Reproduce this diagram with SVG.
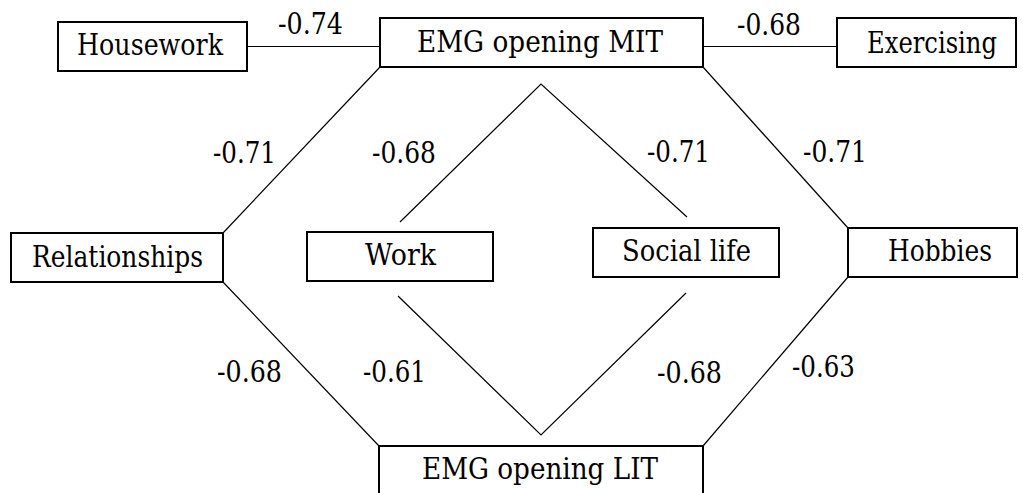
<svg xmlns="http://www.w3.org/2000/svg" width="1023" height="493" viewBox="0 0 1023 493">
<style>
.box{fill:#fff;stroke:#000;stroke-width:2}
.t{font-family:'DejaVu Serif','Liberation Serif',serif;font-size:29.5px;fill:#000}
.c{text-anchor:middle}
.ln{stroke:#000;stroke-width:1.2;fill:none}
.h{stroke:#000;stroke-width:1;fill:none}
</style>
<rect width="1023" height="493" fill="#fff"/>
<g id="connectors">
<line class="h" x1="247" y1="46.5" x2="380" y2="46.5"/>
<line class="h" x1="703" y1="46.5" x2="837" y2="46.5"/>
<line class="ln" x1="380" y1="67" x2="223" y2="233"/>
<line class="ln" x1="223" y1="282" x2="379" y2="446"/>
<line class="ln" x1="703" y1="67" x2="848" y2="228"/>
<line class="ln" x1="848" y1="277" x2="703" y2="446"/>
<polyline class="ln" points="400,222 541,84 687,217"/>
<polyline class="ln" points="398,296 541,435 686,293"/>
<text class="t" x="278" y="34" textLength="65" lengthAdjust="spacingAndGlyphs">-0.74</text>
<text class="t" x="737" y="35" textLength="64" lengthAdjust="spacingAndGlyphs">-0.68</text>
<text class="t" x="213" y="163" textLength="63" lengthAdjust="spacingAndGlyphs">-0.71</text>
<text class="t" x="372" y="163" textLength="64" lengthAdjust="spacingAndGlyphs">-0.68</text>
<text class="t" x="647" y="162" textLength="63" lengthAdjust="spacingAndGlyphs">-0.71</text>
<text class="t" x="803" y="162" textLength="64" lengthAdjust="spacingAndGlyphs">-0.71</text>
<text class="t" x="217" y="382" textLength="65" lengthAdjust="spacingAndGlyphs">-0.68</text>
<text class="t" x="363" y="382" textLength="63" lengthAdjust="spacingAndGlyphs">-0.61</text>
<text class="t" x="657" y="383" textLength="65" lengthAdjust="spacingAndGlyphs">-0.68</text>
<text class="t" x="792" y="377" textLength="63" lengthAdjust="spacingAndGlyphs">-0.63</text>
</g>
<g id="housework"><rect class="box" x="58" y="22" width="189" height="49"/><text class="t c" x="150" y="55" textLength="146" lengthAdjust="spacingAndGlyphs">Housework</text></g>
<g id="mit"><rect class="box" x="380" y="18" width="323" height="49"/><text class="t c" x="540" y="52" textLength="246" lengthAdjust="spacingAndGlyphs">EMG opening MIT</text></g>
<g id="exercising"><rect class="box" x="837" y="18" width="179" height="49"/><text class="t c" x="932" y="53" textLength="130" lengthAdjust="spacingAndGlyphs">Exercising</text></g>
<g id="relationships"><rect class="box" x="11" y="233" width="212" height="49"/><text class="t c" x="117.5" y="267" textLength="171" lengthAdjust="spacingAndGlyphs">Relationships</text></g>
<g id="work"><rect class="box" x="307" y="232" width="186" height="49"/><text class="t c" x="400.5" y="265" textLength="71" lengthAdjust="spacingAndGlyphs">Work</text></g>
<g id="social"><rect class="box" x="593" y="228" width="186" height="49"/><text class="t c" x="686.5" y="261" textLength="129" lengthAdjust="spacingAndGlyphs">Social life</text></g>
<g id="hobbies"><rect class="box" x="848" y="228" width="169" height="49"/><text class="t c" x="940" y="261" textLength="104" lengthAdjust="spacingAndGlyphs">Hobbies</text></g>
<g id="lit"><rect class="box" x="379" y="446" width="324" height="60"/><text class="t c" x="540" y="479" textLength="236" lengthAdjust="spacingAndGlyphs">EMG opening LIT</text></g>
</svg>
